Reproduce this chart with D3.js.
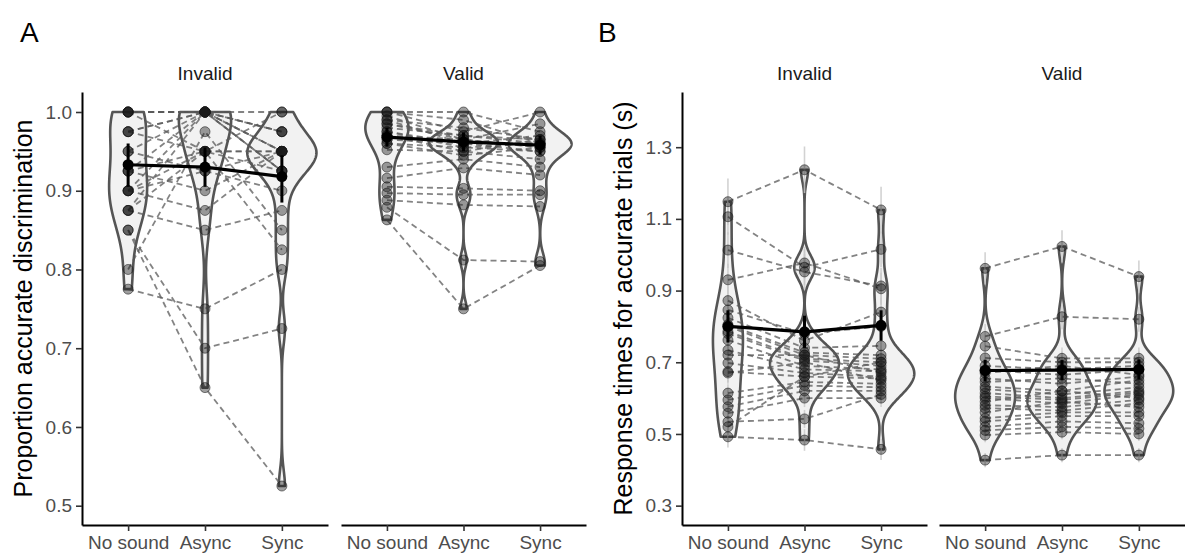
<!DOCTYPE html>
<html>
<head>
<meta charset="utf-8">
<script src="https://cdn.jsdelivr.net/npm/d3@7"></script>
<style>
  body { margin: 0; background: #fff; }
  text { font-family: "Liberation Sans", Arial, sans-serif; }
</style>
</head>
<body>
<svg id="chart" width="1185" height="557"></svg>
<script>
// conditions and facets
const conditions = ["No sound", "Async", "Sync"];
const facetNames = ["Invalid", "Valid"];

// A: proportion accurate, one value per subject (same order in each array)
const accInvalidNoSound = [1, 1, 1, 1, 1, 0.975, 0.975, 0.975, 0.95, 0.95, 0.925, 0.925, 0.925, 0.9, 0.9, 0.9, 0.9, 0.875, 0.875, 0.875, 0.85, 0.85, 0.8, 0.775];
const accInvalidAsync   = [1, 1, 1, 1, 0.95, 1, 0.95, 1, 0.925, 1, 0.95, 1, 0.9, 0.95, 1, 0.925, 0.875, 0.95, 1, 0.85, 0.65, 0.7, 0.975, 0.75];
const accInvalidSync    = [1, 0.95, 0.975, 0.95, 1, 0.925, 0.95, 0.975, 0.95, 0.925, 0.95, 0.975, 0.95, 0.925, 0.95, 0.9, 0.95, 0.825, 0.925, 0.875, 0.525, 0.725, 0.85, 0.8];
const accValidNoSound = [1, 1, 1, 0.995, 0.99, 0.99, 0.985, 0.985, 0.98, 0.975, 0.975, 0.97, 0.97, 0.965, 0.96, 0.96, 0.952, 0.93, 0.916, 0.905, 0.897, 0.888, 0.879, 0.863];
const accValidAsync   = [1, 0.975, 0.99, 0.965, 0.98, 0.96, 0.97, 0.965, 0.97, 0.955, 0.96, 0.95, 0.965, 0.96, 0.945, 0.955, 0.95, 0.94, 0.929, 0.903, 0.895, 0.882, 0.812, 0.75];
const accValidSync    = [0.975, 1, 0.96, 0.985, 0.965, 0.97, 0.96, 0.955, 0.965, 0.96, 0.95, 0.965, 0.955, 0.96, 0.955, 0.95, 0.94, 0.93, 0.92, 0.9, 0.895, 0.88, 0.81, 0.805];

// A: group means and intervals (No sound, Async, Sync)
const accInvalidMean = [0.933, 0.930, 0.918];
const accInvalidLow  = [0.905, 0.905, 0.885];
const accInvalidHigh = [0.960, 0.955, 0.945];
const accValidMean = [0.968, 0.962, 0.958];
const accValidLow  = [0.956, 0.950, 0.946];
const accValidHigh = [0.980, 0.974, 0.970];

// B: response times (s), one value per subject
const rtInvalidNoSound = [1.148, 1.106, 1.013, 0.930, 0.872, 0.846, 0.824, 0.805, 0.800, 0.786, 0.780, 0.762, 0.734, 0.720, 0.698, 0.674, 0.670, 0.614, 0.595, 0.576, 0.558, 0.534, 0.520, 0.492];
const rtInvalidAsync   = [1.237, 0.965, 0.952, 0.977, 0.760, 0.780, 0.740, 0.727, 0.720, 0.710, 0.705, 0.690, 0.680, 0.720, 0.670, 0.660, 0.700, 0.645, 0.635, 0.620, 0.600, 0.542, 0.660, 0.483];
const rtInvalidSync    = [1.125, 1.015, 0.913, 0.905, 0.840, 0.800, 0.746, 0.720, 0.710, 0.700, 0.690, 0.680, 0.675, 0.670, 0.660, 0.655, 0.650, 0.640, 0.630, 0.620, 0.600, 0.610, 0.700, 0.457];
const rtValidNoSound = [0.962, 0.772, 0.745, 0.712, 0.690, 0.678, 0.670, 0.655, 0.645, 0.632, 0.625, 0.614, 0.605, 0.600, 0.590, 0.580, 0.572, 0.560, 0.544, 0.535, 0.520, 0.510, 0.497, 0.427];
const rtValidAsync   = [1.023, 0.827, 0.711, 0.700, 0.680, 0.665, 0.690, 0.640, 0.655, 0.620, 0.610, 0.600, 0.595, 0.585, 0.620, 0.575, 0.565, 0.590, 0.560, 0.550, 0.535, 0.520, 0.505, 0.441];
const rtValidSync    = [0.939, 0.820, 0.711, 0.700, 0.690, 0.680, 0.665, 0.660, 0.640, 0.650, 0.630, 0.620, 0.615, 0.610, 0.600, 0.595, 0.585, 0.575, 0.560, 0.550, 0.530, 0.515, 0.500, 0.441];

// B: per-subject standard errors (light grey bars)
const rtInvalidSe = [0.065, 0.05, 0.05, 0.045, 0.04, 0.04, 0.035, 0.035, 0.035, 0.03, 0.03, 0.03, 0.03, 0.03, 0.03, 0.03, 0.03, 0.025, 0.025, 0.025, 0.025, 0.025, 0.025, 0.03];
const rtValidSe   = [0.045, 0.035, 0.03, 0.03, 0.025, 0.025, 0.025, 0.025, 0.025, 0.025, 0.02, 0.02, 0.02, 0.02, 0.02, 0.02, 0.02, 0.02, 0.02, 0.02, 0.02, 0.02, 0.02, 0.02];

// B: group means and intervals
const rtInvalidMean = [0.800, 0.785, 0.803];
const rtInvalidLow  = [0.755, 0.740, 0.760];
const rtInvalidHigh = [0.845, 0.830, 0.845];
const rtValidMean = [0.677, 0.678, 0.680];
const rtValidLow  = [0.647, 0.650, 0.652];
const rtValidHigh = [0.707, 0.706, 0.708];

// axis limits and ticks
const accDomain = [0.4755, 1.0254];
const accTicks = [0.5, 0.6, 0.7, 0.8, 0.9, 1.0];
const rtDomain = [0.246, 1.454];
const rtTicks = [0.3, 0.5, 0.7, 0.9, 1.1, 1.3];

const plotTop = 92, plotBottom = 525;
const svg = d3.select("#chart");

const panels = [
  { tag: "A", tagX: 20, title: "Proportion accurate discrimination", titleX: 32, axisX: 82,
    domain: accDomain, ticks: accTicks,
    facets: [
      { x0: 82, x1: 328, values: [accInvalidNoSound, accInvalidAsync, accInvalidSync],
        mean: accInvalidMean, low: accInvalidLow, high: accInvalidHigh },
      { x0: 341, x1: 586, values: [accValidNoSound, accValidAsync, accValidSync],
        mean: accValidMean, low: accValidLow, high: accValidHigh }
    ] },
  { tag: "B", tagX: 598, title: "Response times for accurate trials (s)", titleX: 632, axisX: 682,
    domain: rtDomain, ticks: rtTicks,
    facets: [
      { x0: 682, x1: 927, values: [rtInvalidNoSound, rtInvalidAsync, rtInvalidSync], se: rtInvalidSe,
        mean: rtInvalidMean, low: rtInvalidLow, high: rtInvalidHigh },
      { x0: 939, x1: 1185, values: [rtValidNoSound, rtValidAsync, rtValidSync], se: rtValidSe,
        mean: rtValidMean, low: rtValidLow, high: rtValidHigh }
    ] }
];

// gaussian kde, bw.nrd0, evaluated over the data range (trimmed violin)
function kde(values, n = 512) {
  const s = values.slice().sort(d3.ascending);
  const sd = d3.deviation(s);
  const iqr = (d3.quantile(s, 0.75) - d3.quantile(s, 0.25)) / 1.34;
  let lo = Math.min(sd, iqr);
  if (!lo) lo = sd || Math.abs(s[0]) || 1;
  const bw = 0.9 * lo * Math.pow(s.length, -0.2);
  const mn = s[0], mx = s[s.length - 1];
  return d3.range(n).map(i => {
    const v = mn + (mx - mn) * i / (n - 1);
    const d = d3.mean(s, u => Math.exp(-0.5 * ((v - u) / bw) ** 2)) / (bw * Math.sqrt(2 * Math.PI));
    return { v, d };
  });
}

panels.forEach(p => {
  const y = d3.scaleLinear().domain(p.domain).range([plotBottom, plotTop]);

  svg.append("text").attr("x", p.tagX).attr("y", 42)
    .attr("font-size", 28).attr("fill", "#000").text(p.tag);

  svg.append("text")
    .attr("transform", `translate(${p.titleX},${(plotTop + plotBottom) / 2}) rotate(-90)`)
    .attr("text-anchor", "middle").attr("font-size", 25).attr("fill", "#000")
    .text(p.title);

  const ya = svg.append("g").attr("transform", `translate(${p.axisX},0)`)
    .call(d3.axisLeft(y).tickValues(p.ticks).tickFormat(d3.format(".1f")).tickSize(6).tickSizeOuter(0).tickPadding(4));
  ya.select(".domain").attr("stroke", "#000").attr("stroke-width", 2);
  ya.selectAll(".tick line").attr("stroke", "#333").attr("stroke-width", 1.6);
  ya.selectAll(".tick text").attr("font-size", 19).attr("fill", "#4d4d4d").attr("font-family", null);

  p.facets.forEach((f, fi) => {
    const x = d3.scalePoint().domain(conditions).range([f.x0, f.x1]).padding(0.6);
    const unit = x.step();
    const g = svg.append("g");

    svg.append("text").attr("x", (f.x0 + f.x1) / 2).attr("y", 80)
      .attr("text-anchor", "middle").attr("font-size", 19).attr("fill", "#1a1a1a")
      .text(facetNames[fi]);

    const xa = svg.append("g").attr("transform", `translate(0,${plotBottom})`)
      .call(d3.axisBottom(x).tickSize(6).tickSizeOuter(0).tickPadding(5));
    xa.select(".domain").attr("stroke", "#000").attr("stroke-width", 2);
    xa.selectAll(".tick line").attr("stroke", "#333").attr("stroke-width", 1.6);
    xa.selectAll(".tick text").attr("font-size", 19).attr("fill", "#4d4d4d").attr("font-family", null);

    // violins, width scaled by the largest density in the facet
    const dens = f.values.map(v => kde(v));
    const maxD = d3.max(dens, d => d3.max(d, q => q.d));
    dens.forEach((d, i) => {
      const cx = x(conditions[i]);
      const area = d3.area()
        .y(q => y(q.v))
        .x0(q => cx - q.d / maxD * 0.45 * unit)
        .x1(q => cx + q.d / maxD * 0.45 * unit);
      g.append("path").datum(d).attr("d", area)
        .attr("fill", "#f2f2f2").attr("stroke", "#555").attr("stroke-width", 2.6)
        .attr("stroke-linejoin", "round");
    });

    // per-subject error bars
    if (f.se) {
      f.values.forEach((vals, i) => {
        const cx = x(conditions[i]);
        g.selectAll(null).data(vals).enter().append("line")
          .attr("x1", cx).attr("x2", cx)
          .attr("y1", (v, j) => y(v - f.se[j])).attr("y2", (v, j) => y(v + f.se[j]))
          .attr("stroke", "#c8c8c8").attr("stroke-width", 1.6).attr("opacity", 0.8);
      });
    }

    // subject lines
    const line = d3.line().x(d => d[0]).y(d => d[1]);
    const n = f.values[0].length;
    d3.range(n).forEach(j => {
      g.append("path")
        .datum(conditions.map((c, i) => [x(c), y(f.values[i][j])]))
        .attr("d", line).attr("fill", "none")
        .attr("stroke", "#5a5a5a").attr("stroke-opacity", 0.75)
        .attr("stroke-width", 1.8).attr("stroke-dasharray", "6,4");
    });

    // subject points
    f.values.forEach((vals, i) => {
      const cx = x(conditions[i]);
      g.selectAll(null).data(vals).enter().append("circle")
        .attr("cx", cx).attr("cy", v => y(v)).attr("r", 5)
        .attr("fill", "#1a1a1a").attr("fill-opacity", 0.42)
        .attr("stroke", "#1a1a1a").attr("stroke-opacity", 0.55).attr("stroke-width", 1);
    });

    // means with intervals
    g.append("path")
      .datum(conditions.map((c, i) => [x(c), y(f.mean[i])]))
      .attr("d", line).attr("fill", "none").attr("stroke", "#000").attr("stroke-width", 3.2);
    conditions.forEach((c, i) => {
      g.append("line").attr("x1", x(c)).attr("x2", x(c))
        .attr("y1", y(f.low[i])).attr("y2", y(f.high[i]))
        .attr("stroke", "#000").attr("stroke-width", 3);
      g.append("circle").attr("cx", x(c)).attr("cy", y(f.mean[i])).attr("r", 5.5).attr("fill", "#000");
    });
  });
});
</script>
</body>
</html>
